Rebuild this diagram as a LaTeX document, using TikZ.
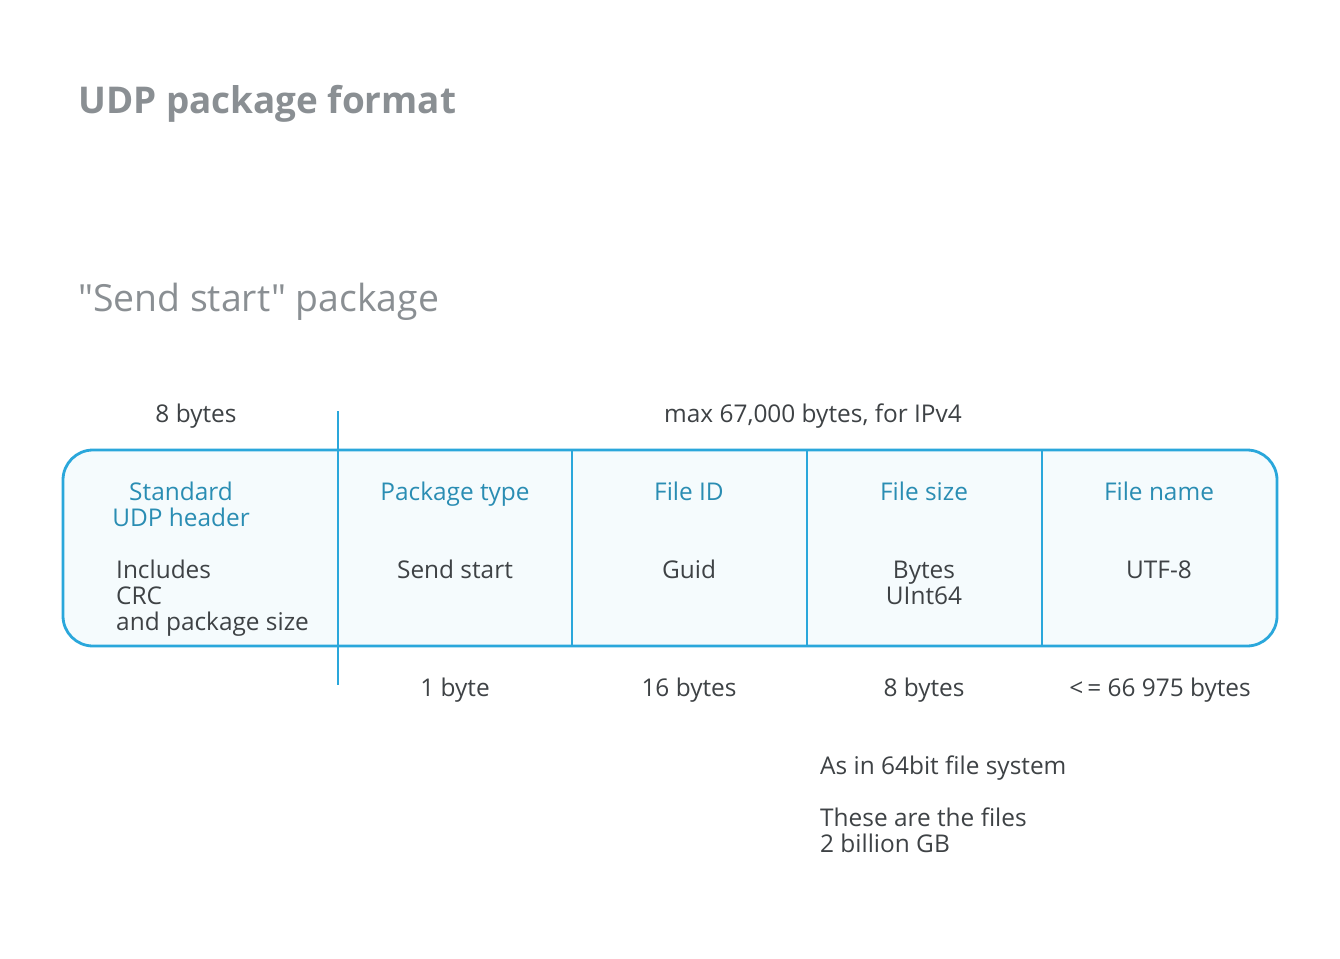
\documentclass[tikz,border=0pt]{standalone}
\usepackage{fontspec}
\setmainfont{Open Sans}
\newfontfamily\plainquote{Open Sans}[Ligatures=ResetAll]
\definecolor{boxblue}{HTML}{2AA7DB}
\definecolor{boxfill}{HTML}{F5FBFD}
\definecolor{headblue}{HTML}{2A8DB3}
\definecolor{bodygray}{HTML}{3E4245}
\definecolor{titlegray}{HTML}{8A8F93}
\tikzset{
  body/.style={font=\fontsize{24.5}{26}\selectfont, text=bodygray, inner sep=0pt, anchor=base},
  head/.style={body, text=headblue},
  bodyl/.style={body, anchor=base west},
  frame/.style={draw=boxblue, line width=2.8bp, fill=boxfill, rounded corners=30bp},
  divider/.style={draw=boxblue, line width=2.8bp}
}
\begin{document}
\begin{tikzpicture}[x=1bp,y=-1bp]
\useasboundingbox (0,0) rectangle (1340,958);
\fill[white] (0,0) rectangle (1340,958);
% titles
\node[inner sep=0pt, anchor=base west, text=titlegray, font=\fontsize{37}{40}\selectfont\bfseries] (title) at (78,113) {UDP package format};
\node[inner sep=0pt, anchor=base west, text=titlegray, font=\plainquote\fontsize{37.5}{40}\selectfont] (subtitle) at (78,311) {"Send start" package};
% frame
\path[frame] (63,450) rectangle (1277,646);
\coordinate (d1t) at (338,411); \coordinate (d1b) at (338,685);
\coordinate (d2t) at (572,450); \coordinate (d2b) at (572,646);
\coordinate (d3t) at (807,450); \coordinate (d3b) at (807,646);
\coordinate (d4t) at (1042,450); \coordinate (d4b) at (1042,646);
\draw[divider] (d1t) -- (d1b);
\draw[divider] (d2t) -- (d2b);
\draw[divider] (d3t) -- (d3b);
\draw[divider] (d4t) -- (d4b);
% top labels
\node[body] (hdr8) at (196,422) {8 bytes};
\node[body] (max) at (813,422) {max 67,000 bytes, for IPv4};
% UDP header cell
\node[head] (std1) at (181,500) {Standard};
\node[head] (std2) at (181,526) {UDP header};
\node[bodyl] (inc1) at (116,578) {Includes};
\node[bodyl] (inc2) at (116,604) {CRC};
\node[bodyl] (inc3) at (116,630) {and package size};
% other cells
\node[head] (pt) at (455,500) {Package type};
\node[body] (pts) at (455,578) {Send start};
\node[head] (fid) at (689,500) {File ID};
\node[body] (fids) at (689,578) {Guid};
\node[head] (fs) at (924,500) {File size};
\node[body] (fs1) at (924,578) {Bytes};
\node[body] (fs2) at (924,604) {UInt64};
\node[head] (fn) at (1159,500) {File name};
\node[body] (fns) at (1159,578) {UTF-8};
% bottom sizes
\node[body] (b1) at (455,696) {1 byte};
\node[body] (b2) at (689,696) {16 bytes};
\node[body] (b3) at (924,696) {8 bytes};
\node[body] (b4) at (1160,696) {<\,= 66 975 bytes};
% notes
\node[bodyl] (n1) at (820,774) {As in 64bit file system};
\node[bodyl] (n2) at (820,826) {These are the files};
\node[bodyl] (n3) at (820,852) {2 billion GB};
\end{tikzpicture}
\end{document}
